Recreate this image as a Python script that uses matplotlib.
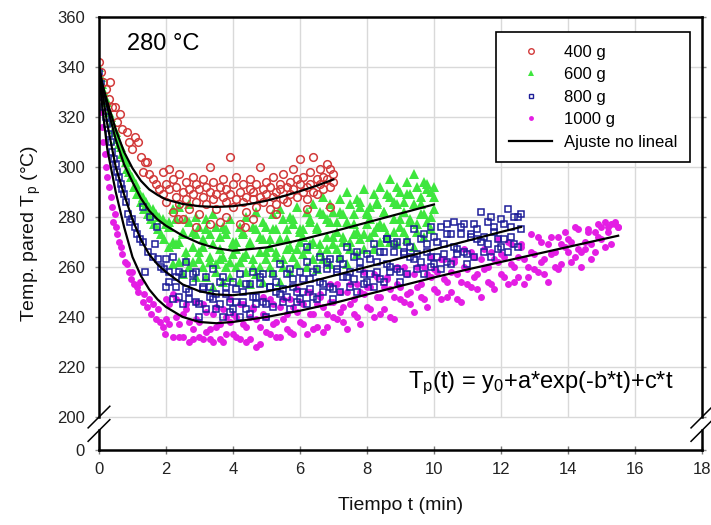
import matplotlib
matplotlib.use('Agg')
import matplotlib.pyplot as plt
from matplotlib.lines import Line2D

plt.rcParams['font.family'] = ['Liberation Sans', 'DejaVu Sans']
plt.rcParams['mathtext.default'] = 'regular'

# ---- datos ----
# rejilla de tiempos (min) compartida por las nubes de puntos
t_grid = [1.9,
          2.0, 2.1, 2.2, 2.3, 2.4, 2.5, 2.6, 2.7, 2.8, 2.9,
          3.0, 3.1, 3.2, 3.3, 3.4, 3.5, 3.6, 3.7, 3.8, 3.9,
          4.0, 4.1, 4.2, 4.3, 4.4, 4.5, 4.6, 4.7, 4.8, 4.9,
          5.0, 5.1, 5.2, 5.3, 5.4, 5.5, 5.6, 5.7, 5.8, 5.9,
          6.0, 6.1, 6.2, 6.3, 6.4, 6.5, 6.6, 6.7, 6.8, 6.9,
          7.0, 7.1, 7.2, 7.3, 7.4, 7.5, 7.6, 7.7, 7.8, 7.9,
          8.0, 8.1, 8.2, 8.3, 8.4, 8.5, 8.6, 8.7, 8.8, 8.9,
          9.0, 9.1, 9.2, 9.3, 9.4, 9.5, 9.6, 9.7, 9.8, 9.9,
          10.0, 10.1, 10.2, 10.3, 10.4, 10.5, 10.6, 10.7, 10.8, 10.9,
          11.0, 11.1, 11.2, 11.3, 11.4, 11.5, 11.6, 11.7, 11.8, 11.9,
          12.0, 12.1, 12.2, 12.3, 12.4, 12.5, 12.6, 12.7, 12.8, 12.9,
          13.0, 13.1, 13.2, 13.3, 13.4, 13.5, 13.6, 13.7, 13.8, 13.9,
          14.0, 14.1, 14.2, 14.3, 14.4, 14.5, 14.6, 14.7, 14.8, 14.9,
          15.0, 15.1, 15.2, 15.3, 15.4, 15.5]

# 400 g
t400_pts = [0.0, 0.05, 0.12, 0.2, 0.3, 0.33, 0.4, 0.48, 0.55, 0.63, 0.7, 0.83,
            0.9, 1.0, 1.07, 1.17, 1.25, 1.31, 1.38, 1.43, 1.5, 1.6, 1.7, 1.8,
            2.35, 2.9, 3.3, 3.8, 4.35, 4.6, 5.3, 6.2, 6.9]
T400_pts = [342, 338, 334, 331, 327, 334, 324, 324, 318, 321, 315, 314,
            310, 307, 312, 310, 304, 298, 302, 302, 297, 295, 293, 291,
            279, 276, 277, 280, 276, 279, 281, 283, 284]
T400_a = [298, 293, 299, 282, 288, 285, 290, 294, 291, 296, 293,
          291, 295, 292, 300, 287, 283, 292, 288, 286, 304,
          284, 287, 277, 286, 288, 291, 287, 284, 300, 291,
          294, 283, 296, 290, 293, 287, 292, 294, 299, 295,
          293, 290, 292, 298, 290, 295, 299, 296, 301, 299, 297]
T400_b = [289, 286, 291, 295, 292, 297, 279, 287, 283, 289, 286,
          281, 288, 285, 290, 294, 289, 278, 295, 291, 289,
          293, 296, 290, 293, 282, 295, 290, 293, 288, 286,
          289, 292, 288, 285, 291, 297, 286, 289, 291, 288,
          303, 296, 287, 293, 304, 289, 293, 291, 295, 292, 294]

# 600 g
t600_pts = [0, 0.05, 0.1, 0.15, 0.2, 0.25, 0.3, 0.35, 0.4, 0.45, 0.5, 0.55,
            0.6, 0.65, 0.7, 0.75, 0.8, 0.85, 0.9, 0.95, 1.0, 1.05, 1.1, 1.15,
            1.2, 1.25, 1.3, 1.35, 1.4, 1.45, 1.5, 1.55, 1.6, 1.65, 1.7, 1.75,
            1.8, 1.85, 1.9, 1.95, 2.0]
T600_pts = [340, 336, 333, 330, 327, 326, 322, 320, 318, 315, 314, 311,
            309, 308, 305, 304, 302, 299, 298, 296, 296, 292, 293, 289,
            290, 286, 288, 283, 286, 281, 284, 279, 283, 277, 281, 275,
            280, 273, 279, 271, 277]
T600_hi = [278, 283, 279, 284, 273, 279, 285, 274, 280, 276,
           271, 279, 273, 281, 276, 267, 276, 273, 279, 270,
           270, 276, 274, 280, 269, 276, 282, 272, 278, 276,
           271, 281, 275, 283, 279, 271, 280, 277, 284, 275,
           275, 282, 279, 285, 275, 282, 288, 279, 285, 282,
           278, 287, 281, 290, 285, 277, 287, 284, 291, 282,
           284, 289, 286, 292, 282, 289, 295, 286, 292, 290,
           286, 294, 289, 297, 292, 285, 294, 291, 290, 292]
T600_mid = [276, 270, 279, 270, 274, 263, 278, 268, 273, 263,
            268, 275, 264, 269, 261, 272, 264, 275, 262, 269,
            267, 262, 273, 265, 270, 260, 275, 266, 271, 263,
            268, 275, 266, 271, 263, 275, 268, 279, 267, 274,
            272, 267, 278, 270, 276, 266, 281, 272, 278, 269,
            274, 282, 272, 278, 270, 281, 274, 286, 273, 281,
            279, 274, 285, 277, 282, 273, 288, 279, 285, 276,
            282, 289, 279, 285, 277, 288, 281, 293, 280, 288]
T600_lo = [268, 261, 269, 262, 257, 266, 260, 262, 256, 266,
           260, 256, 262, 252, 258, 263, 254, 260, 256, 265,
           260, 254, 264, 258, 253, 263, 257, 260, 254, 266,
           260, 258, 264, 254, 260, 267, 258, 264, 261, 270,
           265, 260, 269, 263, 259, 269, 263, 267, 261, 272,
           267, 264, 270, 261, 267, 273, 265, 271, 267, 277,
           272, 267, 276, 270, 276, 272, 270, 274, 269, 279,
           274, 271, 278, 268, 274, 281, 272, 278, 275, 283]

# 800 g
t800_pts = [0, 0.05, 0.1, 0.15, 0.2, 0.25, 0.3, 0.35, 0.4, 0.45, 0.5, 0.55,
            0.6, 0.65, 0.7, 0.75, 0.8, 0.87, 0.93, 1.0, 1.07, 1.15, 1.22, 1.31,
            1.31, 1.37, 1.46, 1.52, 1.6, 1.67, 1.73, 1.76, 1.85, 1.93,
            6.2, 8.6, 9.9, 10.4]
T800_pts = [338, 333, 328, 324, 320, 317, 313, 310, 306, 303, 301, 298,
            296, 293, 291, 289, 286, 281, 278, 279, 276, 273, 271, 284,
            270, 258, 266, 280, 264, 269, 276, 263, 260, 259,
            268, 271, 276, 277]
T800_a = [263, 254, 264, 256, 248, 257, 262, 250, 254, 258,
          245, 252, 256, 248, 259, 249, 245, 256, 252, 242,
          254, 246, 257, 250, 243, 253, 258, 248, 253, 257,
          245, 252, 257, 250, 261, 251, 248, 259, 255, 246,
          258, 250, 262, 255, 248, 259, 264, 253, 259, 263,
          251, 259, 263, 256, 268, 258, 255, 266, 262, 253,
          265, 257, 269, 262, 255, 266, 271, 260, 266, 270,
          258, 266, 270, 264, 275, 265, 262, 273, 269, 260,
          272, 264, 276, 269, 262, 273, 278, 267, 273, 277,
          265, 273, 277, 271, 282, 272, 269, 280, 276, 267,
          279, 271, 283, 276, 269, 280, 281]
T800_b = [252, 258, 247, 252, 258, 245, 251, 247, 257, 246,
          240, 251, 243, 252, 247, 243, 254, 240, 249, 246,
          243, 251, 240, 246, 253, 241, 248, 245, 256, 246,
          240, 252, 244, 254, 249, 246, 257, 243, 252, 250,
          247, 255, 245, 251, 258, 247, 254, 250, 262, 252,
          247, 258, 250, 261, 256, 252, 264, 250, 259, 257,
          254, 263, 252, 258, 266, 254, 261, 258, 269, 259,
          254, 265, 257, 268, 263, 259, 271, 257, 266, 264,
          261, 270, 259, 265, 273, 261, 268, 265, 276, 266,
          261, 272, 264, 275, 270, 266, 278, 264, 274, 271,
          268, 277, 266, 272, 280, 268, 275]

# 1000 g
t1000_pts = [0, 0.03, 0.06, 0.1, 0.13, 0.17, 0.2, 0.25, 0.3, 0.35, 0.4, 0.42,
             0.47, 0.5, 0.55, 0.6, 0.65, 0.7, 0.78, 0.84, 0.9, 0.95, 1.0, 1.05,
             1.13, 1.17, 1.22, 1.3, 1.35, 1.42, 1.5, 1.55, 1.62, 1.7, 1.75, 1.82,
             1.9, 1.97]
T1000_pts = [333, 328, 322, 316, 310, 305, 300, 296, 292, 288, 284, 278,
             281, 276, 273, 270, 268, 265, 262, 261, 258, 255, 258, 253,
             252, 250, 254, 246, 249, 244, 247, 241, 245, 239, 243, 238,
             236, 233]
T1000_a = [247, 237, 249, 240, 232, 241, 245, 230, 235, 246,
           238, 231, 242, 235, 230, 244, 237, 230, 240, 247,
           241, 232, 245, 237, 230, 240, 244, 228, 236, 248,
           240, 233, 245, 238, 232, 247, 241, 234, 244, 251,
           246, 237, 250, 241, 235, 245, 249, 234, 241, 253,
           246, 239, 250, 244, 235, 253, 247, 240, 250, 258,
           252, 243, 257, 248, 241, 252, 256, 240, 248, 260,
           252, 246, 257, 250, 242, 260, 253, 247, 257, 264,
           259, 250, 263, 255, 248, 258, 263, 247, 254, 267,
           259, 252, 264, 257, 248, 267, 260, 253, 263, 271,
           265, 256, 270, 261, 254, 264, 269, 253, 260, 273,
           265, 258, 270, 263, 254, 272, 266, 259, 269, 274,
           271, 262, 276, 267, 260, 270, 275, 263, 266, 277,
           271, 268, 276, 269, 277, 276]
T1000_b = [239, 245, 232, 247, 237, 232, 243, 238, 231, 239,
           232, 245, 234, 231, 241, 236, 231, 243, 233, 238,
           233, 240, 231, 245, 236, 231, 243, 239, 229, 241,
           234, 247, 237, 232, 244, 239, 235, 247, 233, 242,
           238, 245, 233, 250, 241, 236, 248, 244, 236, 246,
           240, 253, 242, 238, 250, 245, 241, 253, 237, 249,
           244, 252, 240, 256, 248, 243, 255, 251, 239, 253,
           247, 260, 249, 245, 257, 252, 248, 260, 244, 256,
           251, 258, 247, 263, 254, 250, 262, 257, 246, 260,
           253, 266, 256, 251, 263, 259, 254, 266, 251, 262,
           257, 264, 253, 269, 260, 256, 268, 263, 256, 266,
           259, 272, 262, 257, 269, 265, 260, 272, 261, 268,
           266, 270, 264, 275, 266, 267, 274, 269, 274, 272,
           276, 278, 274, 277, 278, 276]

# curvas de ajuste no lineal
fit400_t = [0, 0.1, 0.25, 0.5, 0.75, 1.0, 1.25, 1.5, 1.75, 2.0, 2.5, 3.0,
            3.5, 4.0, 4.5, 5.0, 5.5, 6.0, 6.5, 7.0]
fit400 = [340, 333, 326, 315, 306, 299.5, 294.5, 291, 288.8, 287, 285.2, 284.3,
          284, 284.3, 285.2, 286.5, 288.3, 290.3, 292.5, 295]
fit600_t = [0, 0.1, 0.25, 0.5, 0.75, 1.0, 1.25, 1.5, 1.75, 2.0, 2.5, 3.0,
            3.5, 4.0, 5.0, 6.0, 7.0, 8.0, 9.0, 10.0]
fit600 = [340, 333, 324, 311, 301, 294, 287.5, 282.5, 279, 276.5, 272.5, 269.5,
          267.5, 266.5, 267.8, 270.8, 274.2, 277.8, 281.4, 285]
fit800_t = [0, 0.1, 0.25, 0.5, 0.75, 1.0, 1.25, 1.5, 1.75, 2.0, 2.5, 3.0,
            3.5, 4.0, 5.0, 6.0, 7.0, 8.0, 9.0, 10.0, 11.0, 12.0, 12.6]
fit800 = [340, 330, 317, 300, 289, 279, 271, 265, 261, 258, 253, 250.3,
          249, 248.7, 250.2, 253, 256.5, 260, 263.5, 267, 270.5, 274, 276]
fit1000_t = [0, 0.1, 0.25, 0.5, 0.75, 1.0, 1.25, 1.5, 1.75, 2.0, 2.5, 3.0,
             3.5, 4.0, 5.0, 6.0, 7.0, 8.0, 9.0, 10.0, 11.0, 12.0, 13.0, 14.0,
             15.0, 15.5]
fit1000 = [340, 324, 307, 290, 276, 264, 256.5, 251, 247, 244, 240, 238,
           237.5, 238, 240, 242.5, 245.5, 249, 252.4, 255.8, 259, 262, 265, 268,
           271, 272.5]

x_ticks = [0, 2, 4, 6, 8, 10, 12, 14, 16, 18]
y_ticks = [200, 220, 240, 260, 280, 300, 320, 340, 360]
legend_labels = ['400 g', '600 g', '800 g', '1000 g', 'Ajuste no lineal']

# ---- estilo ----
C400 = '#d23a3a'
C600 = '#3ee63e'
C800 = '#1e1e98'
C1000 = '#e41ee4'
GRID = '#d9d9d9'
Y_BREAK = 186.8   # posicion del "0" bajo el corte del eje

fig = plt.figure(figsize=(7.11, 5.25), dpi=100)
ax = fig.add_axes([0.1392, 0.1429, 0.848, 0.8248])
ax.set_xlim(0, 18)
ax.set_ylim(Y_BREAK, 360)

# rejilla solo en la zona 200-360
ax.hlines(y_ticks[:-1], 0, 18, color=GRID, lw=1, zorder=0)
ax.vlines(x_ticks[1:-1], 200, 360, color=GRID, lw=1, zorder=0)

# nubes de puntos
ax.plot(t1000_pts, T1000_pts, 'o', ms=5, color=C1000, mew=0, zorder=2)
ax.plot(t_grid[1:137], T1000_a, 'o', ms=5, color=C1000, mew=0, zorder=2)
ax.plot(t_grid[1:137], T1000_b, 'o', ms=5, color=C1000, mew=0, zorder=2)

ax.plot(t600_pts, T600_pts, '^', ms=6.5, color=C600, mew=0, zorder=3)
ax.plot(t_grid[2:82], T600_hi, '^', ms=6.5, color=C600, mew=0, zorder=3)
ax.plot(t_grid[2:82], T600_mid, '^', ms=6.5, color=C600, mew=0, zorder=3)
ax.plot(t_grid[2:82], T600_lo, '^', ms=6.5, color=C600, mew=0, zorder=3)

sq = dict(marker='s', ls='none', ms=4.6, mfc='none', mec=C800, mew=1.1, zorder=4)
ax.plot(t800_pts, T800_pts, **sq)
ax.plot(t_grid[1:108], T800_a, **sq)
ax.plot(t_grid[1:108], T800_b, **sq)

ci = dict(marker='o', ls='none', ms=5.5, mfc='none', mec=C400, mew=1.1, zorder=4)
ax.plot(t400_pts, T400_pts, **ci)
ax.plot(t_grid[0:52], T400_a, **ci)
ax.plot(t_grid[0:52], T400_b, **ci)

# ajustes
for ft, fy in [(fit400_t, fit400), (fit600_t, fit600),
               (fit800_t, fit800), (fit1000_t, fit1000)]:
    ax.plot(ft, fy, color='black', lw=1.6, zorder=6)

# ejes con corte
for s in ['left', 'right']:
    ax.spines[s].set_visible(False)
for s in ['top', 'bottom']:
    ax.spines[s].set_linewidth(1.8)
for xs in [0, 1]:
    ax.plot([xs, xs], [0, 0.045], transform=ax.transAxes, color='black', lw=1.8,
            clip_on=False, zorder=7)
    ax.plot([xs, xs], [0.076, 1], transform=ax.transAxes, color='black', lw=1.8,
            clip_on=False, zorder=7)
    for yb in [0.045, 0.076]:
        ax.plot([xs - 0.018, xs + 0.018], [yb - 0.025, yb + 0.025],
                transform=ax.transAxes, color='black', lw=1.1, clip_on=False, zorder=7)

ax.set_xticks(x_ticks)
ax.set_xticklabels([str(v) for v in x_ticks])
ax.set_yticks([Y_BREAK] + y_ticks)
ax.set_yticklabels(['0'] + [str(v) for v in y_ticks])
ax.tick_params(axis='x', direction='inout', length=6, width=1, color='#777777',
               labelsize=12, labelcolor='#222222', pad=6)
ax.tick_params(axis='y', direction='out', length=3, width=1, color='#888888',
               labelsize=12, labelcolor='#222222', pad=7, right=True)

ax.set_xlabel('Tiempo t (min)', fontsize=14, labelpad=14, color='#111111')
ax.set_ylabel('Temp. pared T$_p$ (°C)', fontsize=14, labelpad=10, color='#111111')

ax.text(0.046, 0.924, '280 °C', transform=ax.transAxes, fontsize=17,
        va='baseline', ha='left')
ax.text(0.512, 0.143, 'T$_p$(t) = y$_0$+a*exp(-b*t)+c*t', transform=ax.transAxes,
        fontsize=17, va='baseline', ha='left')

handles = [
    Line2D([], [], marker='o', ls='none', ms=4, mfc='none', mec=C400, mew=1),
    Line2D([], [], marker='^', ls='none', ms=4.5, color=C600, mew=0),
    Line2D([], [], marker='s', ls='none', ms=3.5, mfc='none', mec=C800, mew=1),
    Line2D([], [], marker='o', ls='none', ms=3.5, color=C1000, mew=0),
    Line2D([], [], color='black', lw=1.6),
]
leg = ax.legend(handles, legend_labels, loc='upper right',
                bbox_to_anchor=(0.980, 0.965), borderaxespad=0, fontsize=12,
                frameon=True, fancybox=False, framealpha=1, edgecolor='black',
                handlelength=2.6, handletextpad=0.7, labelspacing=0.45,
                borderpad=0.75)
leg.get_frame().set_linewidth(1.2)
leg.set_zorder(10)

plt.savefig('out.png', dpi=100)
